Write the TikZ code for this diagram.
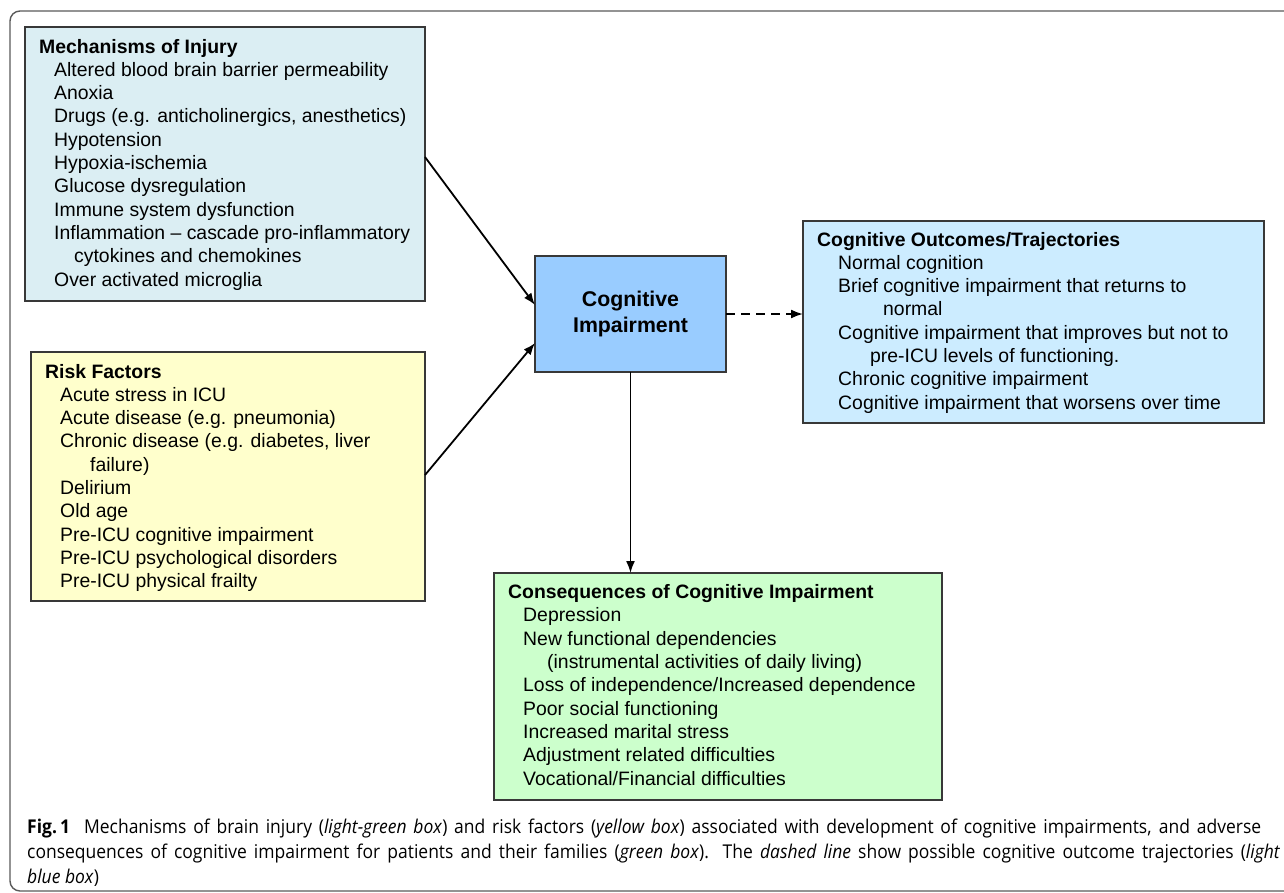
\documentclass[tikz,border=0pt]{standalone}
\usepackage{fontspec}
\setmainfont{Liberation Sans}
\newfontfamily\capfont[FakeStretch=0.92]{Open Sans}
\usetikzlibrary{arrows.meta,calc}
\definecolor{mechc}{HTML}{DBEEF3}
\definecolor{riskc}{HTML}{FFFFCC}
\definecolor{cic}{HTML}{99CCFF}
\definecolor{outc}{HTML}{CCECFF}
\definecolor{consc}{HTML}{CCFFCC}
\definecolor{edgec}{HTML}{383838}
\definecolor{framec}{HTML}{5A5A5A}
\begin{document}
\begin{tikzpicture}[x=1pt,y=-1pt,
  box/.style={draw=edgec,line width=1.3pt,anchor=north west,inner sep=0pt,outer sep=0pt},
  txt/.style={anchor=base west,inner sep=0pt,align=left,font=\fontsize{19.4}{23.3}\selectfont},
  arr/.style={line width=1.8pt,-{Latex[length=12pt,width=9pt]}},
  capline/.style={anchor=base west,inner sep=0pt,font=\capfont\fontsize{19}{25}\selectfont}]
\useasboundingbox (0,0) rectangle (1284,892);
\fill[white] (0,0) rectangle (1284,892);
% outer frame
\draw[framec,line width=1.4pt,rounded corners=10pt] (1290,11) -- (10,11) -- (10,891) -- (1290,891);

% boxes
\node[box,fill=mechc,minimum width=400pt,minimum height=274pt] (mech) at (25,27) {};
\node[box,fill=riskc,minimum width=394pt,minimum height=249pt] (risk) at (31,352) {};
\node[box,fill=cic,minimum width=191pt,minimum height=116pt,anchor=north west,align=center,
      font=\bfseries\fontsize{21.3}{26}\selectfont] (ci) at (535,256) {Cognitive\\Impairment};
\node[box,fill=outc,minimum width=461pt,minimum height=202pt] (out) at (803,221) {};
\node[box,fill=consc,minimum width=448pt,minimum height=227pt] (cons) at (494,573) {};

% texts (anchored at the baseline of their last line)
\node[txt] (mecht) at (39,286) {\textbf{Mechanisms of Injury}\\
\hspace*{15pt}Altered blood brain barrier permeability\\
\hspace*{15pt}Anoxia\\
\hspace*{15pt}Drugs (e.g. anticholinergics, anesthetics)\\
\hspace*{15pt}Hypotension\\
\hspace*{15pt}Hypoxia-ischemia\\
\hspace*{15pt}Glucose dysregulation\\
\hspace*{15pt}Immune system dysfunction\\
\hspace*{15pt}Inflammation -- cascade pro-inflammatory\\
\hspace*{35pt}cytokines and chemokines\\
\hspace*{15pt}Over activated microglia};

\node[txt] (riskt) at (45,587.7) {\textbf{Risk Factors}\\
\hspace*{15pt}Acute stress in ICU\\
\hspace*{15pt}Acute disease (e.g. pneumonia)\\
\hspace*{15pt}Chronic disease (e.g. diabetes, liver\\
\hspace*{45pt}failure)\\
\hspace*{15pt}Delirium\\
\hspace*{15pt}Old age\\
\hspace*{15pt}Pre-ICU cognitive impairment\\
\hspace*{15pt}Pre-ICU psychological disorders\\
\hspace*{15pt}Pre-ICU physical frailty};

\node[txt] (outt) at (817,409.1) {\textbf{Cognitive Outcomes/Trajectories}\\
\hspace*{21pt}Normal cognition\\
\hspace*{21pt}Brief cognitive impairment that returns to\\
\hspace*{66pt}normal\\
\hspace*{21pt}Cognitive impairment that improves but not to\\
\hspace*{53pt}pre-ICU levels of functioning.\\
\hspace*{21pt}Chronic cognitive impairment\\
\hspace*{21pt}Cognitive impairment that worsens over time};

\node[txt] (const) at (508,785) {\textbf{Consequences of Cognitive Impairment}\\
\hspace*{15pt}Depression\\
\hspace*{15pt}New functional dependencies\\
\hspace*{39pt}(instrumental activities of daily living)\\
\hspace*{15pt}Loss of independence/Increased dependence\\
\hspace*{15pt}Poor social functioning\\
\hspace*{15pt}Increased marital stress\\
\hspace*{15pt}Adjustment related difficulties\\
\hspace*{15pt}Vocational/Financial difficulties};

% connectors
\draw[arr] ($(mech.north east)+(0,130)$) -- ($(ci.north west)+(0,49)$);
\draw[arr] ($(risk.north east)+(0,123)$) -- ($(ci.north west)+(0,87)$);
\coordinate (d1) at ($(ci.north east)+(0,58)$);
\draw[arr,dash pattern=on 9pt off 6pt] (d1) -- (d1 -| out.west);
\draw[arr] (ci.south) -- (ci.south |- cons.north);

% caption
\node[capline] (cap1) at (27,833) {\hbox to 1234pt{\textbf{Fig.\,1}\hspace{14pt}Mechanisms of brain injury (\textit{light-green box}) and risk factors (\textit{yellow box}) associated with development of cognitive impairments, and adverse}};
\node[capline] (cap2) at (27,858) {\hbox to 1253pt{consequences of cognitive impairment for patients and their families (\textit{green box}). The \textit{dashed line} show possible cognitive outcome trajectories (\textit{light}}};
\node[capline] (cap3) at (27,883) {\textit{blue box})};
\end{tikzpicture}
\end{document}
